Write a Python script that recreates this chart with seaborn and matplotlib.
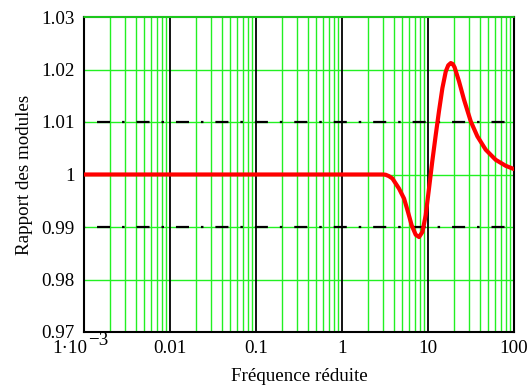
import numpy as np
import pandas as pd
import matplotlib
matplotlib.use("Agg")
import matplotlib.pyplot as plt
import matplotlib.transforms as mtransforms
import seaborn as sns

# Data
freq = [0.001, 0.01, 0.1, 1.0, 3.0, 3.22, 3.5, 3.86, 4.6, 5.27, 5.85, 6.46,
        7.19, 7.87, 8.61, 9.4, 10.27, 11.2, 12.3, 13.4, 14.7, 16.1, 17.2,
        18.4, 19.4, 20.4, 22.9, 26.2, 31.4, 37.5, 46.9, 61.2, 80.0, 100.0]
ratio = [1.0, 1.0, 1.0, 1.0, 1.0, 0.99995, 0.9997, 0.99924, 0.99732, 0.99541,
         0.99287, 0.99032, 0.98853, 0.98809, 0.98905, 0.99224, 0.99732,
         1.00243, 1.00753, 1.01199, 1.01645, 1.01964, 1.0208, 1.02123,
         1.02105, 1.0204, 1.01778, 1.01428, 1.01013, 1.00727, 1.00472,
         1.0028, 1.00166, 1.00103]
ref_levels = [0.99, 1.01]
y_ticks = [0.97, 0.98, 0.99, 1.0, 1.01, 1.02, 1.03]
y_labels = ["0.97", "0.98", "0.99", "1", "1.01", "1.02", "1.03"]
x_ticks = [0.001, 0.01, 0.1, 1, 10, 100]
x_labels = ["", "0.01", "0.1", "1", "10", "100"]
first_label_base = "1·10"
first_label_exp = "\u22123"

sns.set_theme(style="white")
plt.rcParams["font.family"] = ["Liberation Serif", "DejaVu Serif"]
plt.rcParams["lines.scale_dashes"] = False

FS = 13.7
fig = plt.figure(figsize=(5.32, 3.87), dpi=100)
ax = fig.add_axes([84/532, 1-332/387, 430/532, 315/387])

ax.set_xscale("log")
ax.set_xlim(0.001, 100)
ax.set_ylim(0.97, 1.03)

green = "#22f022"
# minor vertical grid lines
for d in [0.001, 0.01, 0.1, 1, 10]:
    for m in range(2, 10):
        ax.axvline(d*m, color=green, lw=1.0, zorder=1)
for d in x_ticks[1:-1]:
    ax.axvline(d, color="black", lw=1.3, zorder=1.5)
for yv in y_ticks[1:-1]:
    ax.axhline(yv, color=green, lw=1.0, zorder=1.2)
ax.axhline(y_ticks[-1], color=green, lw=1.2, zorder=3, clip_on=False)

for lev in ref_levels:
    ax.axhline(lev, color="black", lw=1.6, zorder=2,
               linestyle=(19, (9.4, 8.6, 1.8, 8.6)))

df = pd.DataFrame({"freq": freq, "ratio": ratio})
sns.lineplot(data=df, x="freq", y="ratio", color="red", lw=3, ax=ax,
             zorder=3, sort=False)

ax.set_xticks(x_ticks)
ax.set_xticklabels(x_labels)
ax.set_yticks(y_ticks)
ax.set_yticklabels(y_labels)
ax.minorticks_off()
ax.tick_params(axis="both", length=0, labelsize=FS, colors="black")
ax.tick_params(axis="y", pad=6.5)
ax.tick_params(axis="x", pad=5.5)
ax.set_xlabel("Fréquence réduite", fontsize=FS, color="black", labelpad=8.5)
ax.set_ylabel("Rapport des modules", fontsize=FS, color="black", labelpad=6)

# first x tick label "1·10" with raised exponent (Mathcad style)
base_tr = ax.get_xaxis_transform()
tr1 = base_tr + mtransforms.ScaledTranslation(2.5/72, -15/72, fig.dpi_scale_trans)
ax.text(x_ticks[0], 0, first_label_base, transform=tr1, ha="right",
        va="baseline", fontsize=FS, color="black")
tr2 = base_tr + mtransforms.ScaledTranslation(3/72, -9.5/72, fig.dpi_scale_trans)
ax.text(x_ticks[0], 0, first_label_exp, transform=tr2, ha="left",
        va="baseline", fontsize=FS, color="black")

for s in ax.spines.values():
    s.set_visible(True)
    s.set_color("black")
    s.set_linewidth(1.5)

fig.savefig("out.png", dpi=100)
